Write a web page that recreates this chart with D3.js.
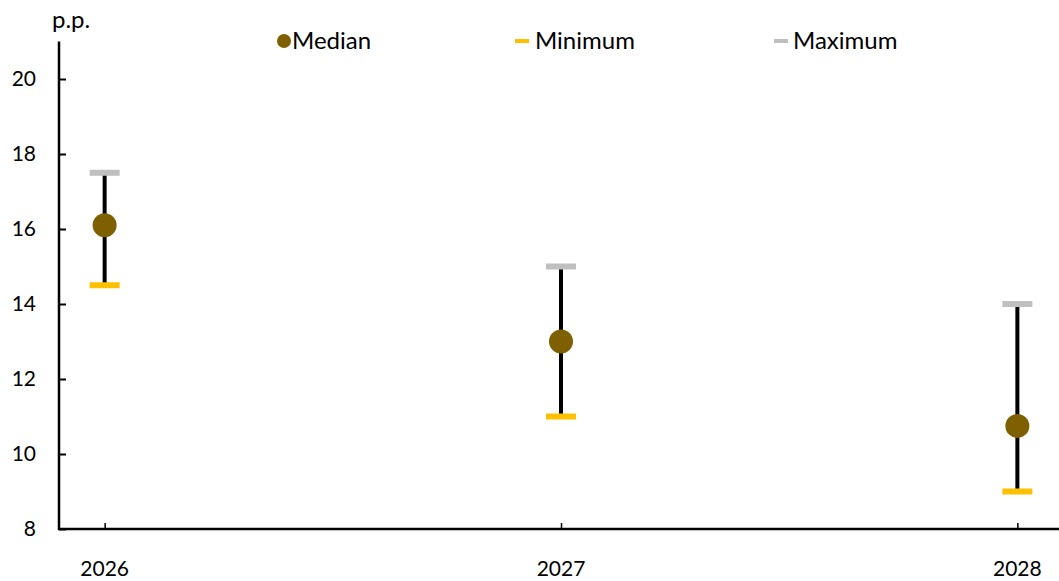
<!DOCTYPE html>
<html>
<head>
<meta charset="utf-8">
<script src="https://cdn.jsdelivr.net/npm/d3@7"></script>
<style>
  body { margin: 0; background: #fff; }
  text { font-family: Lato, "Open Sans", sans-serif; fill: #000; }
</style>
</head>
<body>
<div id="chart"></div>
<script>
// chart data
var years = ["2026", "2027", "2028"];
var medianVals = [16.1, 13.0, 10.75];
var minVals = [14.5, 11.0, 9.0];
var maxVals = [17.5, 15.0, 14.0];
var yTicks = [8, 10, 12, 14, 16, 18, 20];

var W = 1059, H = 581;

var svg = d3.select("#chart").append("svg")
    .attr("width", W)
    .attr("height", H);

// scales
var x = d3.scalePoint().domain(years).range([59, 1063]).padding(0.1);
var y = d3.scaleLinear().domain([8, 21]).range([529, 41.5]);

// y axis
var yAxis = svg.append("g")
    .attr("transform", "translate(59,0)")
    .call(d3.axisRight(y).tickValues(yTicks).tickSize(7).tickFormat(d3.format("d")));
yAxis.select(".domain").remove();
yAxis.selectAll(".tick line").attr("stroke", "#000").attr("stroke-width", 2);
yAxis.selectAll(".tick text")
    .attr("x", -23)
    .attr("text-anchor", "end")
    .style("font-size", "21px")
    .style("font-family", "Lato, sans-serif");
svg.append("line")
    .attr("x1", 59).attr("x2", 59)
    .attr("y1", y(21)).attr("y2", y(8) + 1)
    .attr("stroke", "#000").attr("stroke-width", 2.5);

// x axis
var xAxis = svg.append("g")
    .attr("transform", "translate(0," + y(8) + ")")
    .call(d3.axisTop(x).tickSize(6).tickFormat(""));
xAxis.select(".domain").remove();
xAxis.selectAll(".tick line").attr("stroke", "#000").attr("stroke-width", 1.5);
svg.append("line")
    .attr("x1", 58).attr("x2", W)
    .attr("y1", y(8)).attr("y2", y(8))
    .attr("stroke", "#000").attr("stroke-width", 2.5);
svg.selectAll(".xlab")
    .data(years)
    .enter().append("text")
    .attr("class", "xlab")
    .attr("x", function(d) { return x(d); })
    .attr("y", 576)
    .attr("text-anchor", "middle")
    .style("font-size", "21px")
    .text(function(d) { return d; });

// unit label
svg.append("text")
    .attr("x", 52).attr("y", 28)
    .style("font-size", "24px")
    .text("p.p.");

// range lines
var rows = years.map(function(d, i) {
    return { year: d, med: medianVals[i], lo: minVals[i], hi: maxVals[i] };
});

svg.selectAll(".range")
    .data(rows)
    .enter().append("line")
    .attr("x1", function(d) { return x(d.year); })
    .attr("x2", function(d) { return x(d.year); })
    .attr("y1", function(d) { return y(d.lo); })
    .attr("y2", function(d) { return y(d.hi); })
    .attr("stroke", "#000")
    .attr("stroke-width", 4);

// max caps
svg.selectAll(".maxcap")
    .data(rows)
    .enter().append("rect")
    .attr("x", function(d) { return x(d.year) - 15; })
    .attr("y", function(d) { return y(d.hi) - 3; })
    .attr("width", 30)
    .attr("height", 6)
    .style("fill", "#bfbfbf");

// min caps
svg.selectAll(".mincap")
    .data(rows)
    .enter().append("rect")
    .attr("x", function(d) { return x(d.year) - 15; })
    .attr("y", function(d) { return y(d.lo) - 3; })
    .attr("width", 30)
    .attr("height", 6)
    .style("fill", "#ffc000");

// medians
svg.selectAll(".med")
    .data(rows)
    .enter().append("circle")
    .attr("cx", function(d) { return x(d.year); })
    .attr("cy", function(d) { return y(d.med); })
    .attr("r", 12)
    .style("fill", "#7f6000");

// legend
var leg = svg.append("g");
leg.append("circle").attr("cx", 284).attr("cy", 41).attr("r", 7).style("fill", "#7f6000");
leg.append("text").attr("x", 292).attr("y", 49).style("font-size", "24px").text("Median");
leg.append("rect").attr("x", 515).attr("y", 39).attr("width", 14).attr("height", 4).style("fill", "#ffc000");
leg.append("text").attr("x", 535).attr("y", 49).style("font-size", "24px").text("Minimum");
leg.append("rect").attr("x", 774).attr("y", 39).attr("width", 14).attr("height", 4).style("fill", "#bfbfbf");
leg.append("text").attr("x", 793).attr("y", 49).style("font-size", "24px").text("Maximum");
</script>
</body>
</html>
